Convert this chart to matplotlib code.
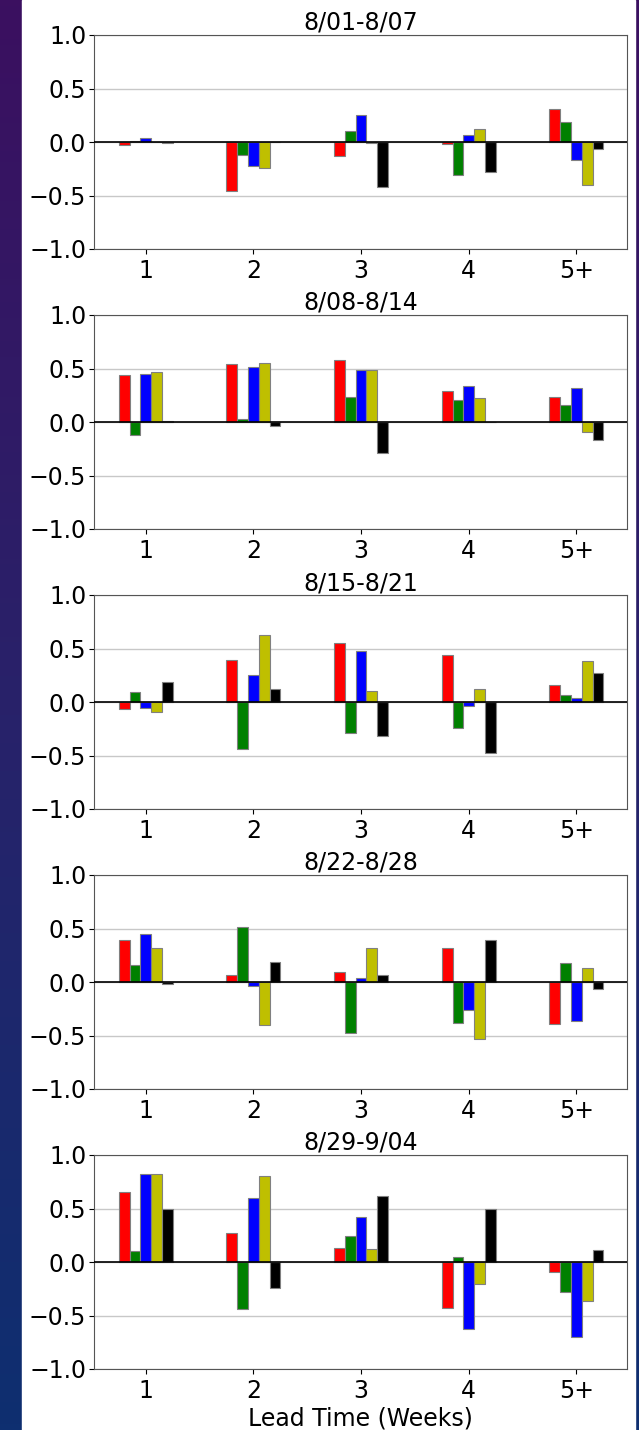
import numpy as np
import matplotlib
matplotlib.use("Agg")
import matplotlib.pyplot as plt
from matplotlib.colors import LinearSegmentedColormap
from matplotlib.patches import Rectangle

# panels (weeks) and lead-time groups
titles = ["8/01-8/07", "8/08-8/14", "8/15-8/21", "8/22-8/28", "8/29-9/04"]
leads = ["1", "2", "3", "4", "5+"]
colors = ["r", "g", "b", "y", "k"]

# one row per lead time, one column per colour series (r, g, b, y, k)
wk1 = [[-0.03, 0.01, 0.04, 0.0, -0.01],
       [-0.46, -0.12, -0.22, -0.245, 0.0],
       [-0.13, 0.10, 0.25, -0.01, -0.42],
       [-0.02, -0.31, 0.07, 0.12, -0.28],
       [0.31, 0.19, -0.17, -0.40, -0.07]]
wk2 = [[0.44, -0.12, 0.45, 0.47, 0.01],
       [0.54, 0.03, 0.51, 0.55, -0.04],
       [0.58, 0.23, 0.49, 0.49, -0.29],
       [0.29, 0.21, 0.34, 0.22, 0.0],
       [0.23, 0.16, 0.32, -0.09, -0.17]]
wk3 = [[-0.065, 0.09, -0.06, -0.09, 0.19],
       [0.39, -0.44, 0.25, 0.63, 0.12],
       [0.55, -0.29, 0.475, 0.10, -0.32],
       [0.435, -0.245, -0.035, 0.12, -0.475],
       [0.16, 0.065, 0.04, 0.38, 0.27]]
wk4 = [[0.39, 0.16, 0.45, 0.32, -0.015],
       [0.065, 0.515, -0.04, -0.40, 0.19],
       [0.09, -0.475, 0.04, 0.32, 0.07],
       [0.32, -0.385, -0.26, -0.53, 0.39],
       [-0.39, 0.18, -0.36, 0.13, -0.07]]
wk5 = [[0.65, 0.10, 0.82, 0.82, 0.50],
       [0.27, -0.44, 0.60, 0.80, -0.24],
       [0.135, 0.24, 0.42, 0.12, 0.62],
       [-0.43, 0.045, -0.63, -0.21, 0.50],
       [-0.095, -0.28, -0.70, -0.365, 0.115]]
panels = [wk1, wk2, wk3, wk4, wk5]

W, H = 639, 1430
fig = plt.figure(figsize=(W / 100, H / 100), dpi=100)

# slide background: purple at top to blue at bottom
bg = fig.add_axes([0, 0, 1, 1], zorder=-2)
cmap = LinearSegmentedColormap.from_list("bg", ["#3b1060", "#28226a", "#0e2f70"])
bg.imshow(np.linspace(0, 1, 256)[:, None], aspect="auto", cmap=cmap, extent=[0, 1, 0, 1])
bg.add_patch(Rectangle((22 / W, 0), (635 - 22) / W, 1, color="white"))
bg.set_xlim(0, 1)
bg.set_ylim(0, 1)
bg.axis("off")

x = np.arange(len(leads))
width = 0.1
offsets = (np.arange(5) - 2) * width
fs = 17

for i, (title, data) in enumerate(zip(titles, panels)):
    top = 35 + 280 * i
    bot = 249 + 280 * i
    ax = fig.add_axes([94 / W, 1 - bot / H, (627 - 94) / W, (bot - top) / H])
    data = np.array(data)
    for j, c in enumerate(colors):
        ax.bar(x + offsets[j], data[:, j], width, color=c, edgecolor="gray", linewidth=0.8, zorder=3)
    ax.axhline(0, color="black", linewidth=1.2, zorder=4)
    ax.set_ylim(-1, 1)
    ax.set_xlim(-0.48, 4.47)
    ax.set_yticks([-1.0, -0.5, 0.0, 0.5, 1.0])
    ax.set_xticks(x)
    ax.set_xticklabels(leads)
    ax.tick_params(labelsize=fs, pad=2)
    ax.tick_params(axis="x", pad=3.5)
    ax.yaxis.grid(True, color="#c8c8c8", linewidth=1)
    ax.set_axisbelow(True)
    for s in ax.spines.values():
        s.set_color("#555555")
    ax.set_title(title, fontsize=fs, pad=3)
    if i == len(titles) - 1:
        ax.set_xlabel("Lead Time (Weeks)", fontsize=fs, labelpad=3)

fig.savefig("out.png", dpi=100)
